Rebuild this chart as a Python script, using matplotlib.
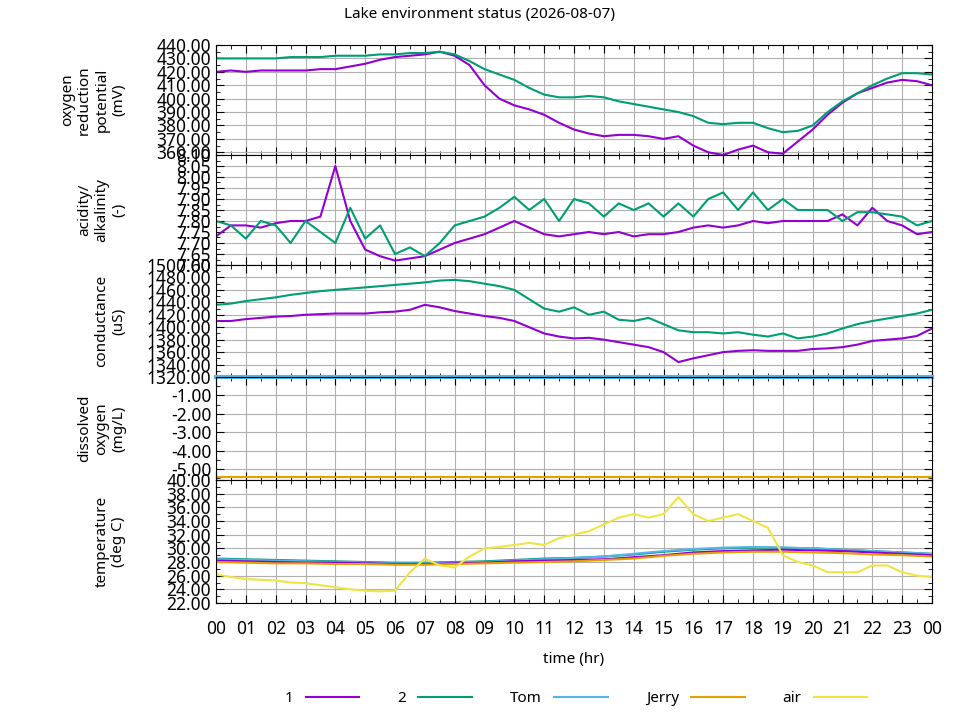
import numpy as np
import matplotlib.pyplot as plt
from matplotlib.ticker import MultipleLocator, FormatStrFormatter

plt.rcParams['font.family'] = ['Noto Sans', 'DejaVu Sans']
plt.rcParams['font.size'] = 10.5

# half-hourly series (49 points) and hourly series (25 points)
t_half = np.arange(49) * 0.5
t_hour = np.arange(25) * 1.0

orp_1 = [420, 421, 420, 421, 421, 421, 421, 422, 422, 424, 426, 429, 431, 432, 433, 435, 432, 425, 410, 400,
         395, 392, 388, 382, 377, 374, 372, 373, 373, 372, 370, 372, 365, 360, 358, 362, 365, 360, 359, 368,
         377, 388, 397, 404, 408, 412, 414, 413, 410]
orp_2 = [430, 430, 430, 430, 430, 431, 431, 431, 432, 432, 432, 433, 433, 434, 434, 435, 433, 428, 422, 418,
         414, 408, 403, 401, 401, 402, 401, 398, 396, 394, 392, 390, 387, 382, 381, 382, 382, 378, 375, 376,
         380, 390, 398, 404, 410, 415, 419, 419, 418]

ph_1 = [7.73, 7.78, 7.78, 7.77, 7.79, 7.80, 7.80, 7.82, 8.05, 7.80, 7.67, 7.64, 7.62, 7.63, 7.64, 7.67, 7.70,
        7.72, 7.74, 7.77, 7.80, 7.77, 7.74, 7.73, 7.74, 7.75, 7.74, 7.75, 7.73, 7.74, 7.74, 7.75, 7.77, 7.78,
        7.77, 7.78, 7.80, 7.79, 7.80, 7.80, 7.80, 7.80, 7.83, 7.78, 7.86, 7.80, 7.78, 7.74, 7.75]
ph_2 = [7.80, 7.78, 7.72, 7.80, 7.78, 7.70, 7.80, 7.75, 7.70, 7.86, 7.72, 7.78, 7.65, 7.68, 7.64, 7.70, 7.78,
        7.80, 7.82, 7.86, 7.91, 7.85, 7.90, 7.80, 7.90, 7.88, 7.82, 7.88, 7.85, 7.88, 7.82, 7.88, 7.82, 7.90,
        7.93, 7.85, 7.93, 7.85, 7.90, 7.85, 7.85, 7.85, 7.80, 7.84, 7.84, 7.83, 7.82, 7.78, 7.80]

cond_1 = [1410, 1410, 1413, 1415, 1417, 1418, 1420, 1421, 1422, 1422, 1422, 1424, 1425, 1428, 1436, 1432, 1426,
          1422, 1418, 1415, 1410, 1400, 1390, 1385, 1382, 1383, 1380, 1376, 1372, 1368, 1360, 1344, 1350, 1355,
          1360, 1362, 1363, 1362, 1362, 1362, 1365, 1366, 1368, 1372, 1378, 1380, 1382, 1386, 1398]
cond_2 = [1436, 1438, 1442, 1445, 1448, 1452, 1455, 1458, 1460, 1462, 1464, 1466, 1468, 1470, 1472, 1475, 1476,
          1474, 1470, 1466, 1460, 1445, 1430, 1425, 1432, 1420, 1425, 1412, 1410, 1415, 1405, 1395, 1392, 1392,
          1390, 1392, 1388, 1385, 1390, 1382, 1385, 1390, 1398, 1405, 1410, 1414, 1418, 1422, 1428]

do_t = [0, 24]
do_top = [0.0, 0.0]
do_bottom = [-5.45, -5.45]

temp_1 = [28.2, 28.1, 28.0, 27.9, 27.9, 27.8, 27.7, 27.7, 27.8, 27.9, 28.1, 28.2, 28.3, 28.4, 28.7, 29.0,
          29.4, 29.6, 29.7, 29.8, 29.7, 29.6, 29.4, 29.2, 29.0]
temp_2 = [28.5, 28.4, 28.3, 28.2, 28.1, 28.0, 27.9, 27.9, 28.0, 28.1, 28.3, 28.5, 28.6, 28.8, 29.1, 29.5,
          29.8, 30.0, 30.1, 30.1, 30.0, 29.8, 29.6, 29.4, 29.2]
temp_tom = [28.4, 28.3, 28.2, 28.1, 28.0, 27.9, 27.8, 27.8, 27.9, 28.0, 28.2, 28.4, 28.6, 28.8, 29.2, 29.6,
            29.9, 30.1, 30.2, 30.1, 30.0, 29.8, 29.6, 29.4, 29.2]
temp_jerry = [28.0, 27.9, 27.8, 27.8, 27.7, 27.7, 27.6, 27.6, 27.7, 27.8, 27.9, 28.0, 28.1, 28.3, 28.5, 28.9,
              29.2, 29.4, 29.5, 29.5, 29.4, 29.3, 29.1, 29.0, 28.8]
temp_air = [26.2, 25.8, 25.5, 25.4, 25.3, 25.0, 24.9, 24.6, 24.3, 24.0, 23.8, 23.7, 23.8, 26.5, 28.5, 27.5,
            27.2, 28.8, 30.0, 30.2, 30.5, 30.8, 30.5, 31.5, 32.0, 32.5, 33.5, 34.5, 35.0, 34.5, 35.0, 37.5,
            35.0, 34.0, 34.5, 35.0, 34.0, 33.0, 29.0, 28.0, 27.5, 26.5, 26.5, 26.5, 27.5, 27.5, 26.5, 26.0, 25.8]

c1, c2, ctom, cjerry, cair = '#9400d3', '#009e73', '#56b4e9', '#e69f00', '#f0e442'

fig = plt.figure(figsize=(9.6, 7.2), dpi=100)
left, right = 216 / 960, 932 / 960
edges = [45, 155, 265, 377, 480, 603]
axes = []
for i in range(5):
    top, bot = edges[i], edges[i + 1]
    ax = fig.add_axes([left, 1 - bot / 720, right - left, (bot - top) / 720])
    axes.append(ax)

panels = [
    ('oxygen\nreduction\npotential\n(mV)', (358, 440), 10),
    ('acidity/\nalkalinity\n(-)', (7.60, 8.10), 0.05),
    ('conductance\n(uS)', (1320, 1500), 20),
    ('dissolved\noxygen\n(mg/L)', (-5.6, 0), 1),
    ('temperature\n(deg C)', (22, 40), 2),
]

axes[0].plot(t_half, orp_1, color=c1, lw=1.5)
axes[0].plot(t_half, orp_2, color=c2, lw=1.5)
axes[1].plot(t_half, ph_1, color=c1, lw=1.5)
axes[1].plot(t_half, ph_2, color=c2, lw=1.5)
axes[2].plot(t_half, cond_1, color=c1, lw=1.5)
axes[2].plot(t_half, cond_2, color=c2, lw=1.5)
axes[3].plot(do_t, do_top, color=ctom, lw=3, clip_on=False)
axes[3].plot(do_t, do_bottom, color=cair, lw=1.5)
axes[3].plot(do_t, do_bottom, color=cjerry, lw=1.5)
axes[4].plot(t_hour, temp_2, color=c2, lw=1.5)
axes[4].plot(t_hour, temp_tom, color=ctom, lw=1.5)
axes[4].plot(t_hour, temp_1, color=c1, lw=1.5)
axes[4].plot(t_hour, temp_jerry, color=cjerry, lw=1.5)
axes[4].plot(t_half, temp_air, color=cair, lw=1.5)

for ax, (lab, lim, step) in zip(axes, panels):
    ax.set_xlim(0, 24)
    ax.set_ylim(*lim)
    ax.yaxis.set_major_locator(MultipleLocator(step))
    ax.yaxis.set_minor_locator(MultipleLocator(step / 2))
    ax.yaxis.set_major_formatter(FormatStrFormatter('%.2f'))
    ax.xaxis.set_major_locator(MultipleLocator(1))
    ax.xaxis.set_minor_locator(MultipleLocator(0.5))
    ax.tick_params(which='both', direction='in', top=True, right=True, labelsize=12.5)
    ax.tick_params(which='major', length=6)
    ax.tick_params(which='minor', length=3)
    ax.grid(True, which='major', color='#b0b0b0', lw=0.8)
    ax.set_ylabel(lab, fontsize=11)
    ax.yaxis.set_label_coords(-0.125, 0.5)
    if ax is not axes[-1]:
        ax.tick_params(labelbottom=False)

axes[3].set_yticks([-5, -4, -3, -2, -1])
axes[-1].set_xticks(range(25))
axes[-1].set_xticklabels(['%02d' % (h % 24) for h in range(25)])
axes[-1].tick_params(axis='x', pad=12)
axes[-1].set_xlabel('time (hr)', fontsize=11, labelpad=10)
fig.suptitle('Lake environment status (2026-08-07)', y=0.99, fontsize=11)

handles = [plt.Line2D([], [], color=c, lw=1.5) for c in (c1, c2, ctom, cjerry, cair)]
fig.legend(handles, ['1', '2', 'Tom', 'Jerry', 'air'], loc='lower center', ncol=5, frameon=False,
           markerfirst=False, handlelength=3.5, columnspacing=2.5, bbox_to_anchor=(0.6, 0.0), fontsize=11)

fig.savefig('out.png', dpi=100)
